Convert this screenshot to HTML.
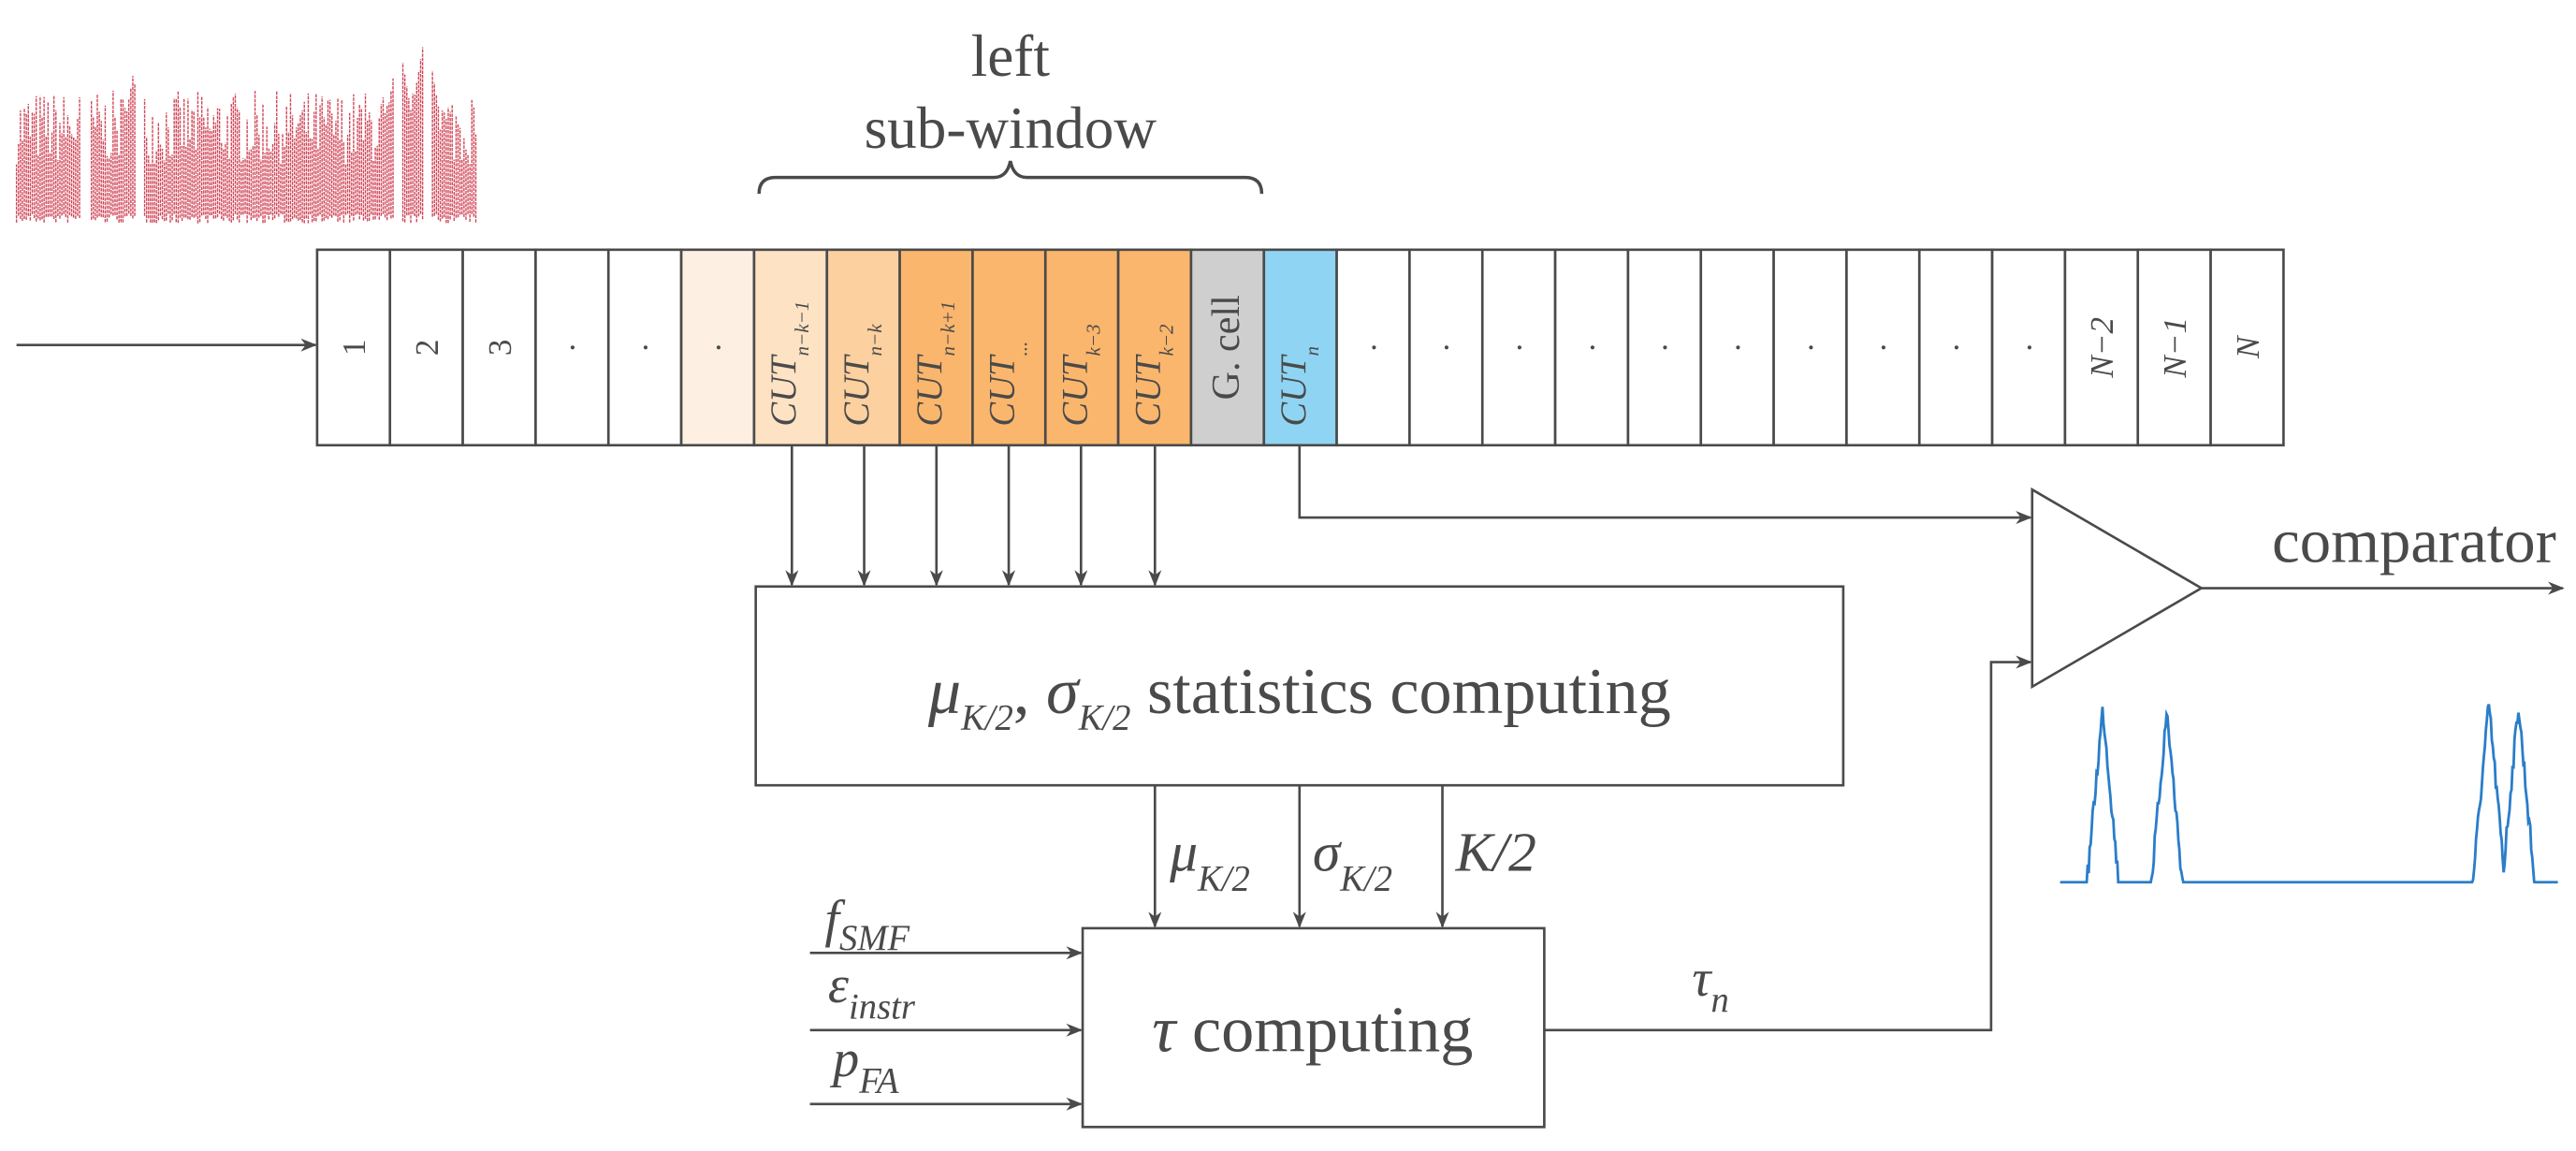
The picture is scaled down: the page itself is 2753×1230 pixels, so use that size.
<!DOCTYPE html>
<html><head><meta charset="utf-8">
<style>html,body{margin:0;padding:0;background:#fff}svg{display:block}
text{font-family:"Liberation Serif",serif;fill:#4a4a4a}</style></head>
<body>
<svg id="s" width="2753" height="1230" viewBox="0 0 1568 700.6" xmlns="http://www.w3.org/2000/svg">
<defs><marker id="a" markerWidth="10" markerHeight="8" refX="9" refY="4" orient="auto" markerUnits="userSpaceOnUse"><path d="M0,0 L10,4 L0,8 L3,4 Z" fill="#4a4a4a"/></marker></defs>
<g id="red" stroke="#c8283c" stroke-width="0.8" fill="none" opacity="0.85" stroke-dasharray="2 0.6"></g>
<g id="blue" stroke="#2a7dc9" stroke-width="1.6" fill="none"></g>
<text x="615" y="46" font-size="36" text-anchor="middle">left</text>
<text x="615" y="90" font-size="36" text-anchor="middle">sub-window</text>
<path d="M462,118 Q462,108 472,108 L605,108 Q613,108 615,98 Q617,108 625,108 L758,108 Q768,108 768,118" stroke="#4a4a4a" stroke-width="2" fill="none"/>
<g id="cells" stroke="#4a4a4a" stroke-width="1.5"></g>
<g stroke="#4a4a4a" stroke-width="1.5" fill="none">
<line x1="10" y1="210" x2="192" y2="210" marker-end="url(#a)"/>
<line x1="482" y1="271" x2="482" y2="356" marker-end="url(#a)"/>
<line x1="526" y1="271" x2="526" y2="356" marker-end="url(#a)"/>
<line x1="570" y1="271" x2="570" y2="356" marker-end="url(#a)"/>
<line x1="614" y1="271" x2="614" y2="356" marker-end="url(#a)"/>
<line x1="658" y1="271" x2="658" y2="356" marker-end="url(#a)"/>
<line x1="703" y1="271" x2="703" y2="356" marker-end="url(#a)"/>
<rect x="460" y="357" width="662" height="121"/>
<line x1="703" y1="478" x2="703" y2="564" marker-end="url(#a)"/>
<line x1="791" y1="478" x2="791" y2="564" marker-end="url(#a)"/>
<line x1="878" y1="478" x2="878" y2="564" marker-end="url(#a)"/>
<rect x="659" y="565" width="281" height="121"/>
<line x1="493" y1="580" x2="658" y2="580" marker-end="url(#a)"/>
<line x1="493" y1="627" x2="658" y2="627" marker-end="url(#a)"/>
<line x1="493" y1="672" x2="658" y2="672" marker-end="url(#a)"/>
<polyline points="940,627 1212,627 1212,403 1236,403" marker-end="url(#a)"/>
<polyline points="791,271 791,315 1236,315" marker-end="url(#a)"/>
<polygon points="1237,298 1237,418 1340,358"/>
<line x1="1340" y1="358" x2="1560" y2="358" marker-end="url(#a)"/>
</g>
<text x="1556" y="342" font-size="38" text-anchor="end">comparator</text>
<text x="791" y="434" font-size="40" text-anchor="middle"><tspan font-style="italic">μ</tspan><tspan font-size="22" font-style="italic" dy="10">K/2</tspan><tspan dy="-10">, </tspan><tspan font-style="italic">σ</tspan><tspan font-size="22" font-style="italic" dy="10">K/2</tspan><tspan dy="-10"> statistics computing</tspan></text>
<text x="799" y="640" font-size="40" text-anchor="middle"><tspan font-style="italic">τ</tspan> computing</text>
<text x="712" y="530" font-size="34" font-style="italic">μ<tspan font-size="22" dy="12">K/2</tspan></text>
<text x="799" y="530" font-size="34" font-style="italic">σ<tspan font-size="22" dy="12">K/2</tspan></text>
<text x="886" y="530" font-size="34" font-style="italic">K/2</text>
<text x="502" y="570" font-size="32" font-style="italic">f<tspan font-size="22" dy="8">SMF</tspan></text>
<text x="504" y="610" font-size="32" font-style="italic">ε<tspan font-size="22" dy="10">instr</tspan></text>
<text x="507" y="655" font-size="32" font-style="italic">p<tspan font-size="22" dy="10">FA</tspan></text>
<text x="1030" y="606" font-size="32" font-style="italic">τ<tspan font-size="22" dy="10">n</tspan></text>
</svg>
<script>
(function(){
var NS="http://www.w3.org/2000/svg";
function el(t,a,p){var e=document.createElementNS(NS,t);for(var k in a)e.setAttribute(k,a[k]);p.appendChild(e);return e;}
var cells=document.getElementById("cells");
var x0=193,w=(1390-193)/27,y0=152,h=119;
var fills=["#fff","#fff","#fff","#fff","#fff","#fdf0e2","#fde2c4","#fcd09f","#fbb66d","#fbb66d","#fbb66d","#fbb66d","#cfcfcf","#8fd5f3"];
var labels=["1","2","3","·","·","·","CUT|n−k−1","CUT|n−k","CUT|n−k+1","CUT|...","CUT|k−3","CUT|k−2","G. cell","CUT|n"];
for(var i=0;i<27;i++){
 var f=i<fills.length?fills[i]:"#fff";
 el("rect",{x:x0+i*w,y:y0,width:w,height:h,fill:f},cells);
 var l=i<labels.length?labels[i]:(i==24?"N−2":i==25?"N−1":i==26?"N":"·");
 var cx=x0+i*w+w/2+7,cy=y0+h/2;
 var t=el("text",{x:cx,y:cy,transform:"rotate(-90 "+cx+" "+cy+")","text-anchor":"middle","font-size":(l=="G. cell"?24:20),stroke:"none"},cells);
 if(l.indexOf("|")>0){var p=l.split("|");t.setAttribute("font-style","italic");t.setAttribute("font-size","22");t.setAttribute("x",cx);t.setAttribute("y",cy-4);t.setAttribute("text-anchor","start");t.setAttribute("transform","rotate(-90 "+cx+" "+cy+") translate(-48 0)");
  t.appendChild(document.createTextNode(p[0]));var s=el("tspan",{"font-size":"12",dy:"8"},t);s.textContent=p[1];}
 else{t.textContent=l;if(l[0]=="N")t.setAttribute("font-style","italic");}
}
var seed=7;function r(){seed=(seed*16807)%2147483647;return seed/2147483647;}
var red=document.getElementById("red"),d="";
var peaks=[[49,52],[78,45],[240,25],[256,18]];
for(var x=10;x<290;x+=1.2){
 if((x>49&&x<55)||(x>83&&x<87)||(x>240&&x<245)||(x>258&&x<263))continue;
 var tp=135-(35+r()*45);
 for(var k=0;k<peaks.length;k++){var dd=Math.abs(x-peaks[k][0]-3);if(dd<8)tp=Math.min(tp,peaks[k][1]+dd*6);}
 d+="M"+x.toFixed(1)+","+(130+r()*6).toFixed(1)+" L"+x.toFixed(1)+","+tp.toFixed(1)+" ";
}
el("path",{d:d},red);
var blue=document.getElementById("blue"),bd="M1254,537";
var bp=[[1280,431],[1319,433],[1515,429],[1533,429]];
for(var x2=1254;x2<=1557;x2+=0.6){
 var y=537;
 for(var k2=0;k2<bp.length;k2++){var d2=Math.abs(x2-bp[k2][0]);if(d2<10)y=Math.min(y,bp[k2][1]+d2*11+(r()-0.5)*12);}
 y=Math.min(537,y);bd+=" L"+x2.toFixed(1)+","+y.toFixed(1);
}
el("path",{d:bd},blue);
})();
</script>
</body></html>
